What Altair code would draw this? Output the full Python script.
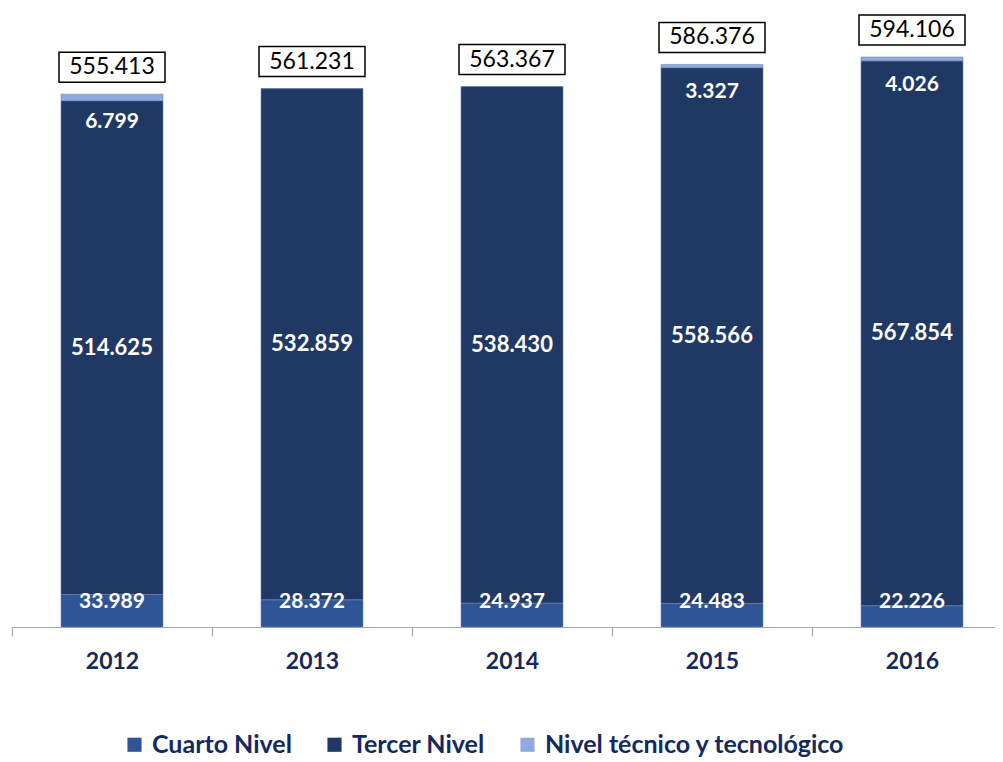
import altair as alt
import pandas as pd

years = ["2012", "2013", "2014", "2015", "2016"]
cuarto = [33.989, 28.372, 24.937, 24.483, 22.226]
tercer = [514.625, 532.859, 538.430, 558.566, 567.854]
tecnico = [6.799, 0.0, 0.0, 3.327, 4.026]
totals = [555.413, 561.231, 563.367, 586.376, 594.106]
series = ["Cuarto Nivel", "Tercer Nivel", "Nivel técnico y tecnológico"]
colors = ["#2F5597", "#1F3864", "#8FAADC"]

rows = []
for i, y in enumerate(years):
    for k, (name, vals) in enumerate(zip(series, [cuarto, tercer, tecnico])):
        rows.append({"year": y, "serie": name, "value": vals[i], "order": k})
long_df = pd.DataFrame(rows)

wide = pd.DataFrame({
    "year": years, "cuarto": cuarto, "tercer": tercer,
    "tecnico": tecnico, "total": totals,
})
wide["tercer_mid"] = wide["cuarto"] + wide["tercer"] / 2
wide["zero"] = 0.0

FONT = "Lato"
NAVY = "#14295E"

x_scale = alt.Scale(range=[0, 1000], paddingInner=0, paddingOuter=0)
x_enc = alt.X("year:N", sort=years, scale=x_scale,
              axis=alt.Axis(title=None, labelAngle=0, tickBand="extent",
                            labelFont=FONT, labelFontSize=23, labelFontWeight="bold",
                            labelColor=NAVY, domainColor="#A6A6A6", tickColor="#A6A6A6",
                            tickSize=9, labelPadding=14, domainWidth=1.2, tickWidth=1.2))
x_plain = alt.X("year:N", sort=years, scale=x_scale)
y_scale = alt.Scale(domain=[0, 640], nice=False)

bars = alt.Chart(long_df).mark_bar(width=102, stroke="#6F86B0", strokeWidth=0.6).encode(
    x=x_enc,
    y=alt.Y("value:Q", stack="zero", scale=y_scale, axis=None),
    color=alt.Color("serie:N", scale=alt.Scale(domain=series, range=colors),
                    legend=alt.Legend(title=None, orient="none", direction="horizontal",
                                      legendX=110, legendY=719,
                                      symbolType="square", symbolSize=200,
                                      symbolStrokeWidth=0,
                                      labelFont=FONT, labelFontSize=25,
                                      labelFontWeight="bold", labelColor=NAVY,
                                      columnPadding=30, labelOffset=5, labelLimit=500)),
    order=alt.Order("order:Q"),
)

base = alt.Chart(wide)

lab_tercer = base.mark_text(font=FONT, fontSize=22, fontWeight="bold", color="white").encode(
    x=x_plain, y=alt.Y("tercer_mid:Q", scale=y_scale),
    text=alt.Text("tercer:Q", format=".3f"))

lab_cuarto = base.mark_text(font=FONT, fontSize=21, fontWeight="bold", color="white", dy=-25).encode(
    x=x_plain, y=alt.Y("zero:Q", scale=y_scale),
    text=alt.Text("cuarto:Q", format=".3f"))

lab_tec = base.transform_filter("datum.tecnico > 0").mark_text(
    font=FONT, fontSize=21, fontWeight="bold", color="white", dy=28).encode(
    x=x_plain, y=alt.Y("total:Q", scale=y_scale),
    text=alt.Text("tecnico:Q", format=".3f"))

box = base.mark_point(shape="M-1,-0.283L1,-0.283L1,0.283L-1,0.283Z", size=11236,
                      filled=True, fill="white", stroke="black", strokeWidth=1.5,
                      opacity=1, yOffset=-27).encode(
    x=x_plain, y=alt.Y("total:Q", scale=y_scale))

lab_total = base.mark_text(font=FONT, fontSize=23, color="black", dy=-27).encode(
    x=x_plain, y=alt.Y("total:Q", scale=y_scale),
    text=alt.Text("total:Q", format=".3f"))

chart = alt.layer(bars, lab_tercer, lab_cuarto, lab_tec, box, lab_total).properties(
    width=983, height=614,
    padding={"left": 4, "top": 5, "right": 0, "bottom": 134},
    autosize=alt.AutoSizeParams(type="none"),
).configure(background="white").configure_view(stroke=None)

chart.save("out.html", embed_options={"renderer": "svg", "actions": False})
